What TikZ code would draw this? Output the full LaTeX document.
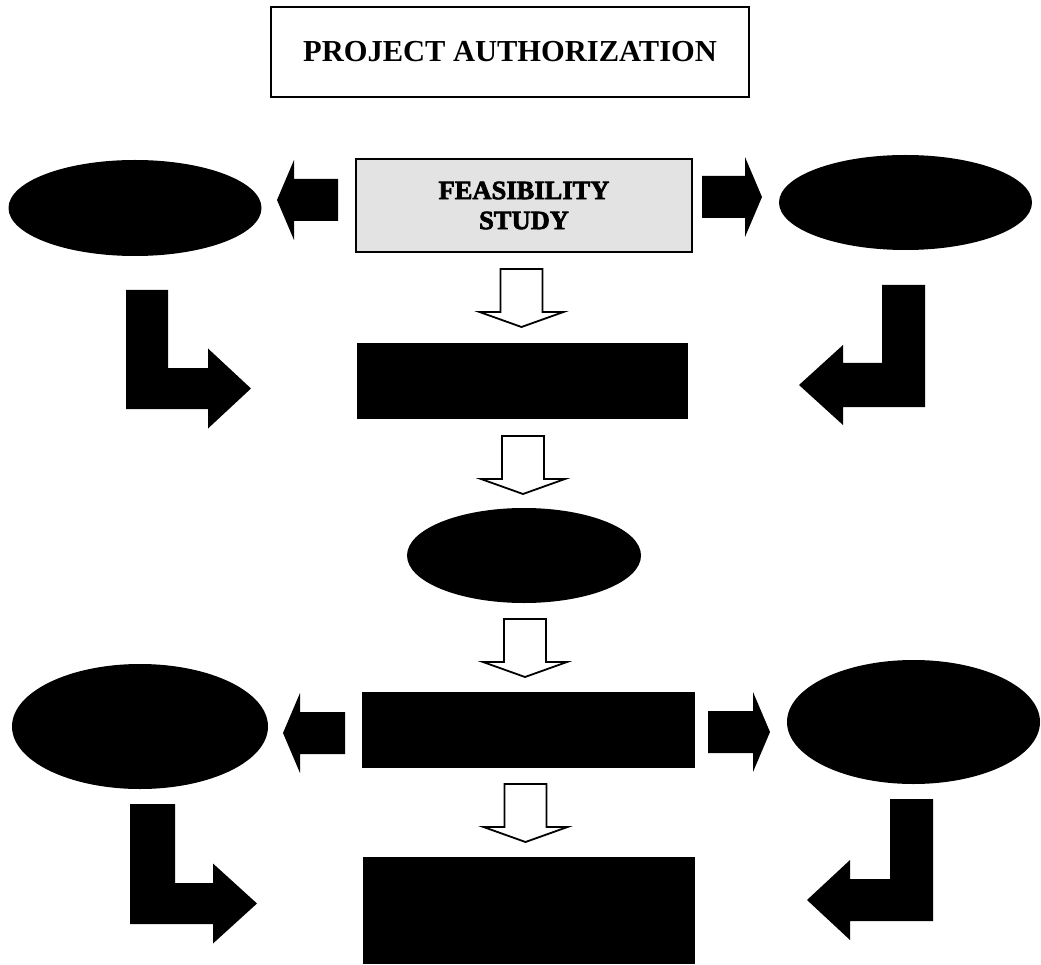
\documentclass[tikz,border=0pt]{standalone}
\usepackage{fontspec}
\setmainfont{Liberation Serif}
\newfontfamily\heavyfont{Liberation Serif}[BoldFeatures={FakeBold=2.5}]
\usepackage{tikz}
\usetikzlibrary{shapes.geometric}

\tikzset{
  blob/.style={ellipse, fill=black, inner sep=0pt},
  blackbox/.style={rectangle, fill=black, inner sep=0pt},
  hollow/.style={draw=black, fill=white, line width=1.8pt, line join=miter},
  solid arrow/.style={fill=black}
}

\begin{document}
\begin{tikzpicture}[x=1pt, y=-1pt]
  \useasboundingbox (0,0) rectangle (1041,965);

  % heading and study box
  \node[draw, line width=1.2pt, minimum width=478pt, minimum height=90pt, inner sep=0pt,
        font=\fontsize{30.5}{34}\selectfont\bfseries] (auth) at (510,52) {PROJECT AUTHORIZATION};
  \node[draw, line width=2pt, fill=black!11, minimum width=336pt, minimum height=93pt, inner sep=0pt,
        align=center, font=\heavyfont\fontsize{26.5}{30}\selectfont\bfseries] (feas) at (524,205.5) {FEASIBILITY\\STUDY};

  % ovals
  \node[blob, minimum width=253pt, minimum height=96pt] (ovalA) at (135,208) {};
  \node[blob, minimum width=253pt, minimum height=95pt] (ovalB) at (905.5,202.5) {};
  \node[blob, minimum width=234pt, minimum height=95pt] (ovalC) at (524,555.5) {};
  \node[blob, minimum width=256pt, minimum height=125pt] (ovalD) at (140,726.5) {};
  \node[blob, minimum width=253pt, minimum height=124pt] (ovalE) at (913.5,722) {};

  % black boxes
  \node[blackbox, minimum width=331pt, minimum height=76pt] (boxA) at (522.5,381) {};
  \node[blackbox, minimum width=333pt, minimum height=76pt] (boxB) at (528.5,730) {};
  \node[blackbox, minimum width=332pt, minimum height=107pt] (boxC) at (529,910.5) {};

  % hollow down arrows
  \foreach \cx/\top in {521.5/269, 523/436, 525/619, 525.5/784} {
    \draw[hollow] (\cx-21,\top) -- (\cx+21,\top) -- (\cx+21,\top+43) -- (\cx+42,\top+43)
      -- (\cx,\top+58) -- (\cx-42,\top+43) -- (\cx-21,\top+43) -- cycle;
  }

  % side arrows (d=1 points left, d=-1 points right)
  \foreach \tx/\cy/\sx/\d in {277/200/338/1, 283/733/345/1, 762/197/702/-1, 770/732/708/-1} {
    \fill[solid arrow] (\tx,\cy) -- (\tx+17*\d,\cy-40) -- (\tx+17*\d,\cy-21) -- (\sx,\cy-21)
      -- (\sx,\cy+21) -- (\tx+17*\d,\cy+21) -- (\tx+17*\d,\cy+40) -- cycle;
  }

  % bent arrows
  \foreach \a/\b/\yt/\yh/\yb/\xh/\tip in {126/168/290/368/409/208/251, 130/175/804/883/924/213/257,
                                        925/882/285/363/407/843/799, 933/890/799/879/921/850/807} {
    \fill[solid arrow] (\a,\yt) -- (\b,\yt) -- (\b,\yh) -- (\xh,\yh) -- (\xh,{(\yh+\yb)/2-40})
      -- (\tip,{(\yh+\yb)/2}) -- (\xh,{(\yh+\yb)/2+40}) -- (\xh,\yb) -- (\a,\yb) -- cycle;
  }
\end{tikzpicture}
\end{document}
